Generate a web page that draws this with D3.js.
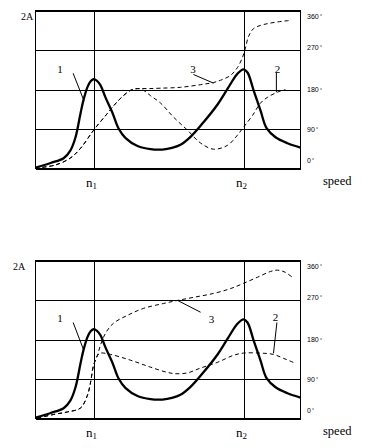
<!DOCTYPE html>
<html><head><meta charset="utf-8">
<script src="https://cdn.jsdelivr.net/npm/d3@7"></script>
<style>body{margin:0;background:#fff}</style>
</head><body>
<svg id="c" width="384" height="448"></svg>
<script>
// speed axis in arbitrary units 0..100; amplitude in grid units 0..4; phase in degrees
const amplitude = [[0,0.02],[5.7,0.14],[10.6,0.26],[13.2,0.46],[15.1,0.79],[17.0,1.40],[18.1,1.73],[19.6,2.06],[20.8,2.21],[21.9,2.26],[23.2,2.22],[24.5,2.11],[26.4,1.80],[29.1,1.40],[31.3,1.02],[34.0,0.77],[38.5,0.57],[43.4,0.49],[47.9,0.48],[51.5,0.52],[54.7,0.60],[58.5,0.80],[63.4,1.17],[68.7,1.62],[72.5,2.02],[76.2,2.40],[78.5,2.51],[80.0,2.43],[82.3,1.98],[84.9,1.47],[87.2,1.02],[90.6,0.79],[95.1,0.64],[100,0.53]];
const phase2Top = [[0,1],[7.5,8],[13.2,24],[17.0,46],[21.9,87],[27.2,126],[31.3,155],[35.8,178],[38.5,182],[40.8,178],[43.4,166],[47.2,149],[52.1,117],[57.4,87],[62.3,58],[67.2,44],[72.5,53],[76.2,76],[78.5,94],[81.9,121],[84.9,149],[87.5,162],[91.3,174],[94.3,180]];
const phase3Top = [[0,1],[7.5,8],[13.2,24],[17.0,46],[21.9,87],[27.2,126],[31.3,155],[35.8,178],[38.5,182],[42.3,182],[47.2,183],[54.7,185],[62.3,191],[67.2,196],[69.8,201],[73.6,212],[76.2,230],[78.1,253],[79.2,274],[80.4,301],[82.3,319],[84.9,326],[87.5,330],[91.3,334],[95.5,337]];
const phase2Bottom = [[0.75,1],[7.5,10],[12.1,15],[17.0,24],[19.6,53],[20.8,83],[21.9,121],[23.4,144],[24.5,149],[28.3,146],[35.8,133],[43.4,117],[49.8,105],[53.0,102],[57.4,104],[62.3,115],[68.7,128],[74.7,144],[78.5,149],[84.9,149],[89.8,146],[93.6,137],[98.1,126]];
const phase3Bottom = [[0.75,1],[7.5,10],[12.1,15],[17.0,24],[19.6,53],[20.8,83],[21.9,121],[23.4,144],[24.5,167],[26.4,194],[29.4,217],[34.7,235],[40.8,251],[48.3,262],[53.6,269],[59.6,276],[67.2,285],[73.6,296],[78.5,308],[83.8,322],[88.7,335],[91.3,338],[94.3,333],[97.4,319]];
const angleTicks = [0, 90, 180, 270, 360];
const angleTickLabels = ["0", "90", "180", "270", "360"];
const speedTicks = [21.9, 78.5];
const speedTickLabels = [["n", "1"], ["n", "2"]];
const curveNames = ["1", "2", "3"];
const amplitudeTitle = "2A";
const speedTitle = "speed";
// annotation anchors (data units: speed, amplitude grid units)
const notesTop = [
  {name: curveNames[0], at: [9.2, 2.42], from: [14.2, 2.41], to: [18.2, 1.73]},
  {name: curveNames[2], at: [59.4, 2.42], from: [59.6, 2.38], to: [67.2, 2.16]},
  {name: curveNames[1], at: [91.3, 2.42], from: [90.9, 2.42], to: [90.9, 1.93]}
];
const notesBottom = [
  {name: curveNames[0], at: [9.2, 2.44], from: [14.2, 2.43], to: [18.2, 1.73]},
  {name: curveNames[2], at: [66.4, 2.43], from: [62.3, 2.69], to: [53.6, 2.99]},
  {name: curveNames[1], at: [90.6, 2.48], from: [91.1, 2.43], to: [89.8, 1.65]}
];

const svg = d3.select("#c");
const x = d3.scaleLinear().domain([0, 100]).range([35.5, 300.5]);
const serif = "'Liberation Serif','Times New Roman',serif";
const sans = "'Liberation Sans',Arial,sans-serif";

function panel(offsetY, p2, p3, notes, titleX) {
  const g = svg.append("g").attr("transform", `translate(0,${offsetY})`);
  const y = d3.scaleLinear().domain([0, 4]).range([168.5, 10.5]);
  const ya = d3.scaleLinear().domain([0, 360]).range([168.5, 10.5]);

  const ga = g.append("g").attr("transform", `translate(${x(0)},0)`)
    .call(d3.axisRight(ya).tickValues(angleTicks).tickSize(x(100) - x(0)).tickFormat(""));
  ga.select(".domain").remove();
  ga.selectAll("line").attr("stroke", "#000").attr("shape-rendering", "crispEdges");

  const gx = g.append("g").attr("transform", `translate(0,${y(0)})`)
    .call(d3.axisBottom(x).tickValues(speedTicks).tickSize(-(y(0) - y(4))).tickFormat(""));
  gx.select(".domain").remove();
  gx.selectAll("line").attr("stroke", "#000").attr("shape-rendering", "crispEdges");

  g.append("rect").attr("x", x(0)).attr("y", y(4))
    .attr("width", x(100) - x(0)).attr("height", y(0) - y(4))
    .attr("fill", "none").attr("stroke", "#000").attr("shape-rendering", "crispEdges");

  angleTicks.forEach((v, i) => {
    const dy = v === 360 ? 8 : v === 0 ? -6 : v === 270 ? -0.5 : 2.5;
    const t = g.append("text").attr("x", 307).attr("y", ya(v) + dy)
      .attr("font-family", sans).attr("font-size", 7).attr("fill", "#000")
      .text(angleTickLabels[i]);
    t.append("tspan").attr("dx", 1.2).attr("font-size", 5).attr("dy", -0.5).text("°");
  });

  speedTicks.forEach((v, i) => {
    const t = g.append("text").attr("x", x(v) - 7.5).attr("y", 187)
      .attr("font-family", serif).attr("font-size", 13).attr("fill", "#000")
      .text(speedTickLabels[i][0]);
    t.append("tspan").attr("font-size", 9).attr("dy", 2).text(speedTickLabels[i][1]);
  });

  g.append("text").attr("x", 323).attr("y", 184.5)
    .attr("font-family", serif).attr("font-size", 12.5).attr("fill", "#000").text(speedTitle);
  g.append("text").attr("x", titleX).attr("y", 19.5)
    .attr("font-family", serif).attr("font-size", 10).attr("fill", "#000").text(amplitudeTitle);

  const lineAmp = d3.line().x(d => x(d[0])).y(d => y(d[1])).curve(d3.curveCatmullRom);
  const linePh = d3.line().x(d => x(d[0])).y(d => ya(d[1])).curve(d3.curveCatmullRom);

  [p2, p3].forEach(p => g.append("path").attr("d", linePh(p)).attr("fill", "none")
    .attr("stroke", "#000").attr("stroke-width", 1).attr("stroke-dasharray", "4,3"));
  g.append("path").attr("d", lineAmp(amplitude)).attr("fill", "none")
    .attr("stroke", "#000").attr("stroke-width", 2.3).attr("stroke-linejoin", "round");

  notes.forEach(n => {
    g.append("line").attr("x1", x(n.from[0])).attr("y1", y(n.from[1]))
      .attr("x2", x(n.to[0])).attr("y2", y(n.to[1])).attr("stroke", "#000").attr("stroke-width", 1);
    g.append("text").attr("x", x(n.at[0])).attr("y", y(n.at[1]))
      .attr("text-anchor", "middle").attr("font-family", serif).attr("font-size", 11)
      .attr("fill", "#000").text(n.name);
  });
}

panel(0, phase2Top, phase3Top, notesTop, 21);
panel(250, phase2Bottom, phase3Bottom, notesBottom, 13);
</script>
</body></html>
